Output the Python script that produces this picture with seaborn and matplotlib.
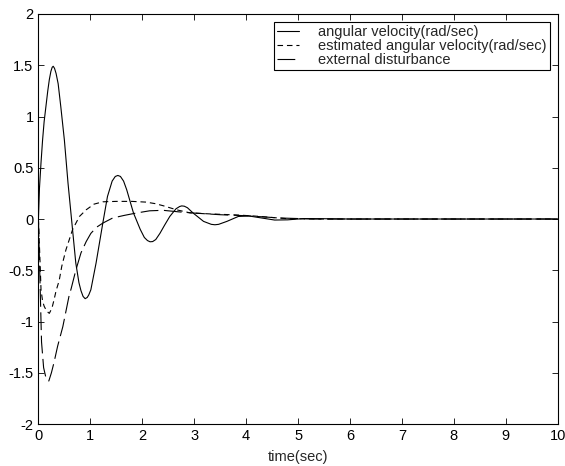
import matplotlib
matplotlib.use("Agg")
import matplotlib.pyplot as plt
from matplotlib.ticker import FuncFormatter
import seaborn as sns

# angular velocity (solid)
t_w = [0, 0.02, 0.05, 0.08, 0.11, 0.145, 0.18, 0.21, 0.24, 0.265, 0.285, 0.31, 0.34, 0.38,
       0.43, 0.5, 0.57, 0.645, 0.72, 0.78, 0.82, 0.86, 0.9, 0.94, 0.97, 1.01, 1.11, 1.24,
       1.33, 1.42, 1.48, 1.53, 1.58, 1.64, 1.7, 1.83, 1.96, 2.04, 2.1, 2.15, 2.2, 2.26,
       2.34, 2.43, 2.53, 2.65, 2.72, 2.76, 2.81, 2.87, 2.98, 3.18, 3.33, 3.4, 3.47, 3.63,
       3.85, 4.05, 4.3, 4.55, 4.8, 5.1, 5.5, 6, 7, 8, 9, 10]
w = [0, 0.3, 0.55, 0.77, 0.95, 1.1, 1.25, 1.36, 1.44, 1.48, 1.49, 1.47, 1.42, 1.32,
     1.1, 0.77, 0.35, -0.04, -0.43, -0.62, -0.7, -0.755, -0.777, -0.765, -0.74, -0.69, -0.43, -0.04,
     0.22, 0.37, 0.415, 0.425, 0.415, 0.37, 0.286, 0.06, -0.1, -0.18, -0.21, -0.222, -0.22, -0.2,
     -0.14, -0.06, 0.025, 0.1, 0.122, 0.128, 0.125, 0.11, 0.058, -0.023, -0.052, -0.056, -0.052, -0.023,
     0.025, 0.03, 0.01, -0.01, -0.008, 0.004, 0.003, 0.0, 0.0, 0.0, 0.0, 0.0]

# estimated angular velocity (dashed)
t_est = [0, 0.03, 0.05, 0.08, 0.11, 0.16, 0.21, 0.26, 0.3, 0.34, 0.4, 0.45, 0.53, 0.66,
         0.79, 0.92, 1.07, 1.24, 1.5, 1.8, 2.07, 2.25, 2.4, 2.66, 2.92, 3.3, 3.8, 4.14,
         4.5, 4.8, 5.5, 7, 10]
est = [0, -0.4, -0.69, -0.8, -0.85, -0.9, -0.92, -0.87, -0.79, -0.7, -0.6, -0.46, -0.3, -0.1,
       0.025, 0.09, 0.145, 0.168, 0.172, 0.172, 0.165, 0.15, 0.13, 0.09, 0.06, 0.05, 0.04, 0.03,
       0.015, 0.003, 0.0, 0.0, 0.0]

# external disturbance (long dash)
t_d = [0, 0.03, 0.06, 0.1, 0.15, 0.2, 0.25, 0.3, 0.37, 0.47, 0.53, 0.59, 0.63, 0.72,
       0.82, 0.92, 1.01, 1.12, 1.24, 1.43, 1.65, 1.88, 2.14, 2.4, 2.7, 3.0, 3.5, 4.0,
       4.65, 5.3, 7, 10]
dist = [0, -0.6, -1.2, -1.45, -1.56, -1.58, -1.5, -1.4, -1.24, -1.05, -0.9, -0.75, -0.68, -0.5,
        -0.33, -0.22, -0.14, -0.08, -0.04, 0.01, 0.035, 0.058, 0.08, 0.085, 0.07, 0.058, 0.042, 0.032,
        0.01, 0.0, 0.0, 0.0]

labels = ["angular velocity(rad/sec)",
          "estimated angular velocity(rad/sec)",
          "external disturbance"]

sns.set_style("ticks")
plt.rcParams["font.family"] = ["Liberation Sans", "DejaVu Sans"]
plt.rcParams["axes.unicode_minus"] = False
plt.rcParams["xtick.direction"] = "in"
plt.rcParams["ytick.direction"] = "in"

fs = 10.5

fig = plt.figure(figsize=(5.65, 4.66), dpi=100)
ax = fig.add_axes([0.068, 0.09, 0.919, 0.88])

sns.lineplot(x=t_w, y=w, ax=ax, color="black", lw=0.8, label=labels[0])
sns.lineplot(x=t_est, y=est, ax=ax, color="black", lw=0.8,
             linestyle=(0, (5, 3.5)), label=labels[1])
sns.lineplot(x=t_d, y=dist, ax=ax, color="black", lw=0.8,
             linestyle=(0, (16, 5)), label=labels[2])

ax.set_xlim(0, 10)
ax.set_ylim(-2, 2)
ax.set_xticks(range(0, 11))
ax.set_yticks([-2, -1.5, -1, -0.5, 0, 0.5, 1, 1.5, 2])
ax.yaxis.set_major_formatter(FuncFormatter(lambda v, p: "%g" % v))
ax.tick_params(which="both", top=True, right=True, length=4, width=0.6,
               labelsize=fs, pad=3.5, colors="black")
for s in ax.spines.values():
    s.set_linewidth(0.8)
    s.set_color("black")
ax.set_xlabel("time(sec)", fontsize=fs, labelpad=5)
ax.set_ylabel("")

leg = ax.legend(loc="upper right", fontsize=fs, frameon=True, fancybox=False,
                edgecolor="black", framealpha=1, borderaxespad=0.55,
                handlelength=1.5, labelspacing=0.0, borderpad=0.2, handletextpad=1.3)
leg.get_frame().set_linewidth(0.8)

fig.savefig("out.png", dpi=100)
